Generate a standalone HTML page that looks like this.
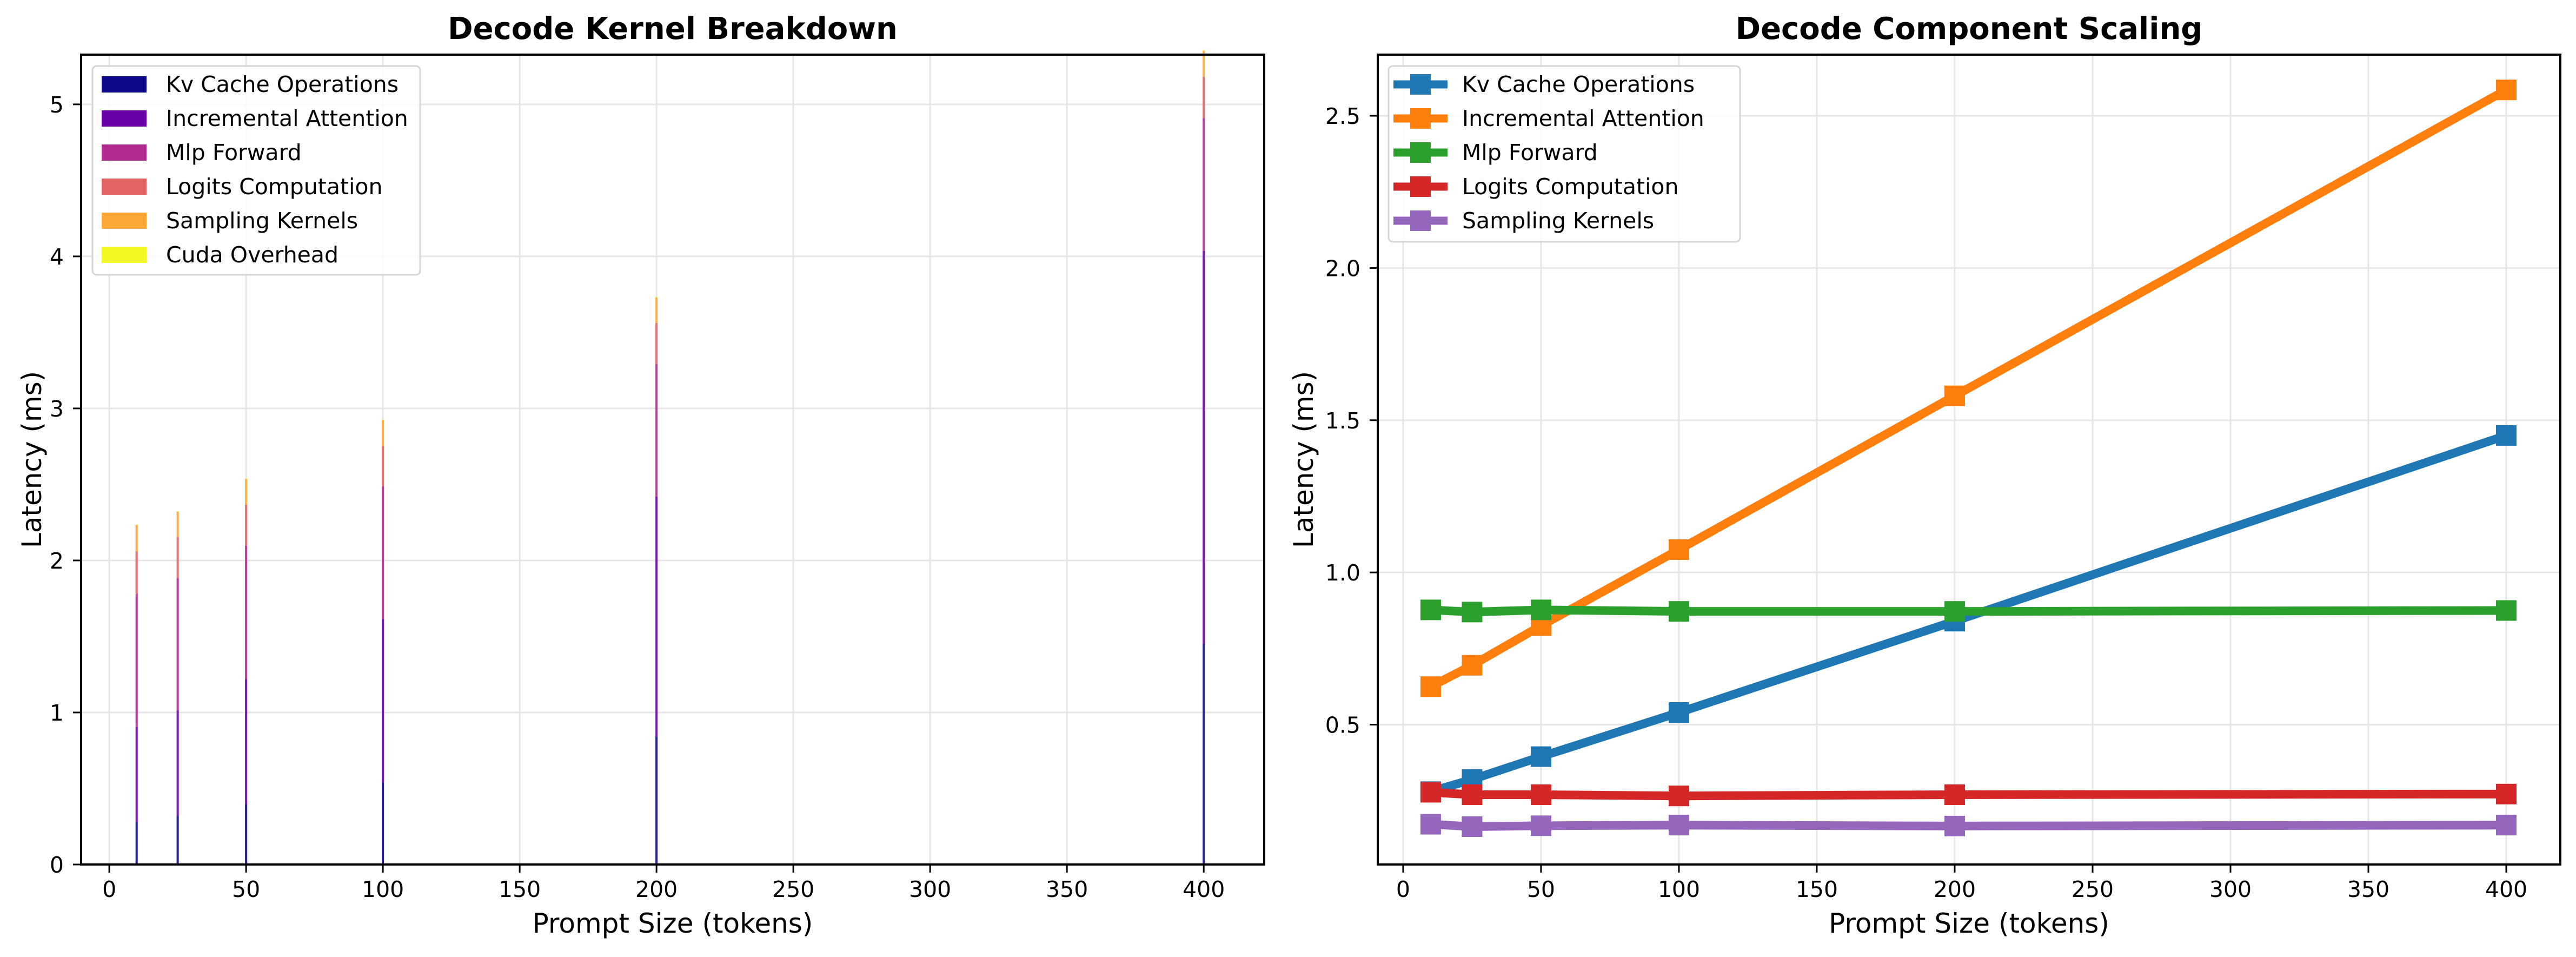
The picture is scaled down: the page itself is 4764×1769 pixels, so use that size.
<!DOCTYPE html>
<html><head><meta charset="utf-8"><style>
html,body{margin:0;padding:0;background:#fff}
svg text{font-family:"DejaVu Sans","Liberation Sans",sans-serif}
</style></head><body>
<svg id="fig" width="4764" height="1764" xmlns="http://www.w3.org/2000/svg">
<rect width="4764" height="1764" fill="#fff"/>
<g id="left"></g>
<g id="right"></g>
</svg>
<script>
const prompts = [10, 25, 50, 100, 200, 400];
const kvCache = [0.28, 0.32, 0.395, 0.54, 0.84, 1.45];
const attention = [0.625, 0.695, 0.825, 1.075, 1.58, 2.585];
const mlpForward = [0.877, 0.87, 0.877, 0.872, 0.872, 0.875];
const logits = [0.278, 0.27, 0.27, 0.266, 0.27, 0.272];
const sampling = [0.173, 0.165, 0.168, 0.17, 0.167, 0.17];
const cudaOverhead = [0.004, 0.004, 0.004, 0.004, 0.004, 0.004];
const seriesNames = ["Kv Cache Operations","Incremental Attention","Mlp Forward","Logits Computation","Sampling Kernels","Cuda Overhead"];
const xTicks = [0,50,100,150,200,250,300,350,400];
const leftYTicks = [0,1,2,3,4,5];
const rightYTicks = [0.5,1.0,1.5,2.0,2.5];
const rightYTickLabels = ["0.5","1.0","1.5","2.0","2.5"];

const NS="http://www.w3.org/2000/svg";
function mk(parent, tag, attrs, text){
  const e=document.createElementNS(NS,tag);
  for(const k in attrs) e.setAttribute(k,attrs[k]);
  if(text!==undefined) e.textContent=text;
  parent.appendChild(e); return e;
}
const plasma=["#0d0887","#6a00a8","#b12a90","#e16462","#fca636","#f0f921"];
const tab=["#1f77b4","#ff7f0e","#2ca02c","#d62728","#9467bd"];
const allSeries=[kvCache,attention,mlpForward,logits,sampling,cudaOverhead];

function drawAxes(g, A, yTicks, yLabels, title, ylabelX){
  const xs=v=>A.x0+(v-A.xmin)/(A.xmax-A.xmin)*(A.x1-A.x0);
  const ys=v=>A.y1-(v-A.ymin)/(A.ymax-A.ymin)*(A.y1-A.y0);
  const grid=mk(g,'g',{});
  
  
  xTicks.forEach(t=>{mk(grid,'line',{x1:xs(t),x2:xs(t),y1:A.y0,y2:A.y1,stroke:'#e6e6e6','stroke-width':3});});
  yTicks.forEach(t=>{mk(grid,'line',{x1:A.x0,x2:A.x1,y1:ys(t),y2:ys(t),stroke:'#e6e6e6','stroke-width':3});});
  const xt=mk(g,'g',{});
  
  
  xTicks.forEach(t=>{
    mk(xt,'line',{x1:xs(t),x2:xs(t),y1:A.y1,y2:A.y1+15,stroke:'#000','stroke-width':3});
    const tx=mk(xt,'text',{x:xs(t),y:A.y1+60,'font-size':41,'text-anchor':'middle'},String(t));
    
    
  });
  const yt=mk(g,'g',{});
  
  
  yTicks.forEach((t,i)=>{
    mk(yt,'line',{x1:A.x0-15,x2:A.x0,y1:ys(t),y2:ys(t),stroke:'#000','stroke-width':3});
    const ty=mk(yt,'text',{x:A.x0-32,y:ys(t)+15,'font-size':41,'text-anchor':'end'},yLabels[i]);
    
    
  });
  const tt=mk(g,'text',{x:(A.x0+A.x1)/2,y:72,'font-size':56,'font-weight':'bold','text-anchor':'middle'},title);
  
  
  const xl=mk(g,'text',{x:(A.x0+A.x1)/2,y:1724,'font-size':50,'text-anchor':'middle'},'Prompt Size (tokens)');
  
  
  const yl=mk(g,'text',{x:ylabelX,y:(A.y0+A.y1)/2,'font-size':50,'text-anchor':'middle',transform:`rotate(-90 ${ylabelX} ${(A.y0+A.y1)/2})`},'Latency (ms)');
  
  
  return {xs,ys};
}
function frame(g,A){
  const f=mk(g,'rect',{x:A.x0,y:A.y0,width:A.x1-A.x0,height:A.y1-A.y0,fill:'none',stroke:'#000','stroke-width':4});
  
  
}

// LEFT chart
const L={x0:150,x1:2338,y0:101,y1:1598,xmin:-10.3,xmax:422.1,ymin:0,ymax:5.327};
const gl=document.getElementById('left');
const sl=drawAxes(gl,L,leftYTicks,leftYTicks.map(String),'Decode Kernel Breakdown',76);
const bars=mk(gl,'g',{});


prompts.forEach((p,i)=>{
  let base=0;
  allSeries.forEach((s,k)=>{
    const v=s[i];
    const r=mk(bars,'rect',{x:sl.xs(p-0.4),width:sl.xs(p+0.4)-sl.xs(p-0.4),y:sl.ys(base+v),height:sl.ys(base)-sl.ys(base+v),fill:plasma[k],opacity:0.9});
    
    
    base+=v;
  });
});
frame(gl,L);
const lgL=mk(gl,'g',{});


mk(lgL,'rect',{x:171,y:122,width:606,height:386,rx:8,fill:'#fff','fill-opacity':0.8,stroke:'#d5d5d5','stroke-width':3});
seriesNames.forEach((n,k)=>{
  const cy=156+k*63;
  const e=mk(lgL,'g',{});
  
  
  mk(e,'rect',{x:188,y:cy-15,width:83,height:30,fill:plasma[k]});
  mk(e,'text',{x:307,y:cy+14,'font-size':41},n);
});

// RIGHT chart
const R={x0:2548,x1:4735,y0:101,y1:1598,xmin:-9.2,xmax:419.6,ymin:0.0407,ymax:2.7008};
const gr=document.getElementById('right');
const sr=drawAxes(gr,R,rightYTicks,rightYTickLabels,'Decode Component Scaling',2428);
allSeries.slice(0,5).forEach((s,k)=>{
  const sg=mk(gr,'g',{});
  
  
  const pts=prompts.map((p,i)=>sr.xs(p)+','+sr.ys(s[i])).join(' ');
  mk(sg,'polyline',{points:pts,fill:'none',stroke:tab[k],'stroke-width':16,'stroke-linejoin':'round'});
  prompts.forEach((p,i)=>{
    const m=mk(sg,'rect',{x:sr.xs(p)-19,y:sr.ys(s[i])-19,width:38,height:38,fill:tab[k]});
    
    
  });
});
frame(gr,R);
const lgR=mk(gr,'g',{});


mk(lgR,'rect',{x:2568,y:122,width:650,height:325,rx:8,fill:'#fff','fill-opacity':0.8,stroke:'#d5d5d5','stroke-width':3});
seriesNames.slice(0,5).forEach((n,k)=>{
  const cy=156+k*63;
  const e=mk(lgR,'g',{});
  
  
  mk(e,'line',{x1:2577,x2:2677,y1:cy,y2:cy,stroke:tab[k],'stroke-width':15});
  mk(e,'rect',{x:2608,y:cy-19,width:38,height:38,fill:tab[k]});
  mk(e,'text',{x:2704,y:cy+14,'font-size':41},n);
});
</script>
</body></html>
